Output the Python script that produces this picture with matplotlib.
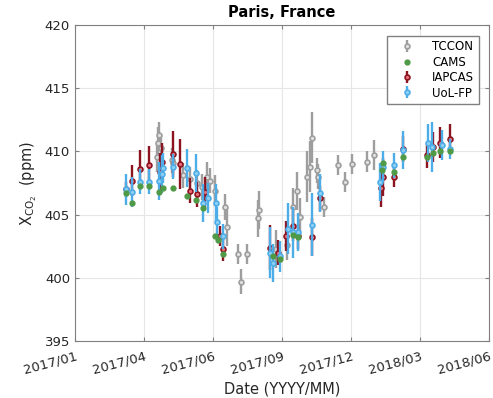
import matplotlib.pyplot as plt
import numpy as np

# days since 2017-01-01
tccon_day = [102, 103, 105, 107, 121, 122, 135, 143, 152, 158, 164, 168, 174, 187, 190,
             203, 207, 214, 228, 229, 250, 264, 272, 277, 280, 289, 293, 295, 302, 303,
             310, 328, 337, 345, 364, 373]
tccon_val = [409.6, 410.7, 411.3, 410.3, 409.3, 409.1, 408.1, 407.8, 407.5, 407.2, 408.0,
             407.7, 406.9, 405.6, 404.0, 401.9, 399.7, 401.9, 404.7, 405.4, 402.3, 402.6,
             405.6, 406.9, 404.8, 408.0, 408.8, 411.1, 408.5, 408.0, 405.6, 408.9, 407.6,
             409.0, 409.2, 409.7]
tccon_err = [1.2, 1.2, 1.0, 1.0, 1.0, 1.0, 1.0, 1.0, 1.0, 1.0, 1.2, 1.0, 1.2, 1.0, 1.5,
             0.8, 1.0, 0.8, 1.5, 1.5, 1.5, 1.2, 1.5, 1.5, 1.5, 2.0, 2.0, 2.0, 1.0, 1.0,
             0.8, 0.8, 0.8, 0.8, 0.8, 1.2]

cams_day = [64, 71, 81, 92, 105, 110, 122, 140, 151, 160, 175, 178, 185, 247, 256,
            272, 278, 383, 384, 398, 409, 439, 446, 455, 467]
cams_val = [406.7, 405.9, 407.3, 407.3, 406.8, 407.1, 407.1, 406.5, 406.2, 405.5, 403.3,
            403.0, 401.9, 401.7, 401.5, 403.4, 403.2, 408.5, 409.1, 408.4, 409.55, 409.55,
            409.9, 410.0, 410.0]

iap_day = [64, 71, 81, 92, 106, 108, 122, 131, 143, 152, 162, 181, 185, 243, 253, 263,
           272, 278, 295, 305, 381, 384, 398, 409, 439, 446, 455, 467]
iap_val = [407.0, 407.7, 408.6, 408.9, 408.4, 409.2, 409.8, 409.0, 406.9, 406.6, 406.8,
           403.3, 402.3, 402.4, 402.0, 403.3, 404.1, 403.3, 403.2, 406.3, 407.1, 408.0,
           408.0, 410.2, 409.7, 410.35, 410.7, 411.0]
iap_err = [0.6, 1.2, 1.5, 1.5, 1.5, 1.5, 1.8, 2.0, 1.0, 1.0, 1.2, 0.8, 1.0, 1.8, 1.0,
           1.2, 1.2, 1.0, 1.5, 1.0, 1.5, 1.5, 0.8, 1.0, 1.0, 1.2, 1.2, 1.2]

uol_day = [64, 71, 81, 92, 105, 108, 110, 122, 140, 151, 160, 166, 176, 177, 185, 243,
           247, 256, 266, 272, 278, 295, 305, 380, 384, 398, 409, 440, 445, 457, 467]
uol_val = [407.0, 406.8, 407.6, 407.6, 407.7, 408.2, 408.7, 408.8, 408.7, 408.3, 405.9,
           406.3, 405.9, 404.4, 403.3, 402.0, 401.2, 401.7, 403.9, 403.6, 403.6, 404.2,
           406.7, 407.6, 408.8, 408.9, 410.1, 410.7, 410.35, 410.5, 410.2]
uol_err = [1.2, 1.2, 1.0, 1.0, 1.5, 1.5, 1.2, 1.0, 1.5, 1.5, 1.5, 1.2, 1.5, 1.2, 1.0,
           2.0, 1.5, 1.2, 2.0, 2.0, 1.5, 2.5, 1.5, 1.5, 1.2, 1.0, 1.5, 1.5, 2.0, 1.2, 0.8]

tick_labels = ['2017/01', '2017/04', '2017/06', '2017/09', '2017/12', '2018/03', '2018/06']

fig = plt.figure(figsize=(4.93, 3.98), dpi=100)
ax = fig.add_axes([0.152, 0.143, 0.840, 0.794])

gray = '#9e9e9e'
red = '#8c1320'
blue = '#4dade8'
green = '#4f9a46'

ax.errorbar(tccon_day, tccon_val, yerr=tccon_err, fmt='o', color=gray, ecolor=gray,
            elinewidth=1.7, markersize=3.5, mfc='#e0e0e0', mec=gray, mew=1.2, capsize=0,
            label='TCCON', zorder=2)
ax.errorbar(iap_day, iap_val, yerr=iap_err, fmt='o', color=red, ecolor=red,
            elinewidth=1.7, markersize=3.5, mfc='#e8707a', mec=red, mew=1.2, capsize=0,
            label='IAPCAS', zorder=3)
ax.errorbar(uol_day, uol_val, yerr=uol_err, fmt='o', color=blue, ecolor=blue,
            elinewidth=1.7, markersize=3.5, mfc='#8fd0f2', mec=blue, mew=1.2, capsize=0,
            label='UoL-FP', zorder=4)
ax.plot(cams_day, cams_val, 'o', color=green, markersize=3.5, label='CAMS', zorder=5)

ax.set_xlim(0, 516)
ax.set_ylim(395, 420)
ax.set_xticks(np.linspace(0, 516, 7))
ax.set_xticklabels(tick_labels, rotation=15, ha='right', rotation_mode='anchor')
ax.set_yticks([395, 400, 405, 410, 415, 420])
ax.grid(True, color='#e6e6e6', linewidth=0.8)
ax.set_axisbelow(True)
ax.tick_params(direction='in', top=True, right=True, labelsize=9.5, colors='#262626',
               color='#808080', length=3)
ax.tick_params(axis='x', pad=6)
for s in ax.spines.values():
    s.set_color('#808080')

ax.set_title('Paris, France', fontsize=10.5, fontweight='bold')
ax.set_xlabel('Date (YYYY/MM)', fontsize=10.5, color='#262626')
ax.set_ylabel(r'X$_{\mathrm{CO}_2}$  (ppm)', fontsize=10.5, color='#262626')

handles, labels = ax.get_legend_handles_labels()
order = [labels.index(n) for n in ['TCCON', 'CAMS', 'IAPCAS', 'UoL-FP']]
leg = ax.legend([handles[i] for i in order], [labels[i] for i in order],
                loc='upper right', fontsize=8.5, fancybox=False, framealpha=1,
                edgecolor='#808080', handlelength=2.6, borderpad=0.4,
                labelspacing=0.2, bbox_to_anchor=(0.99, 0.985))

fig.savefig('out.png', dpi=100)
